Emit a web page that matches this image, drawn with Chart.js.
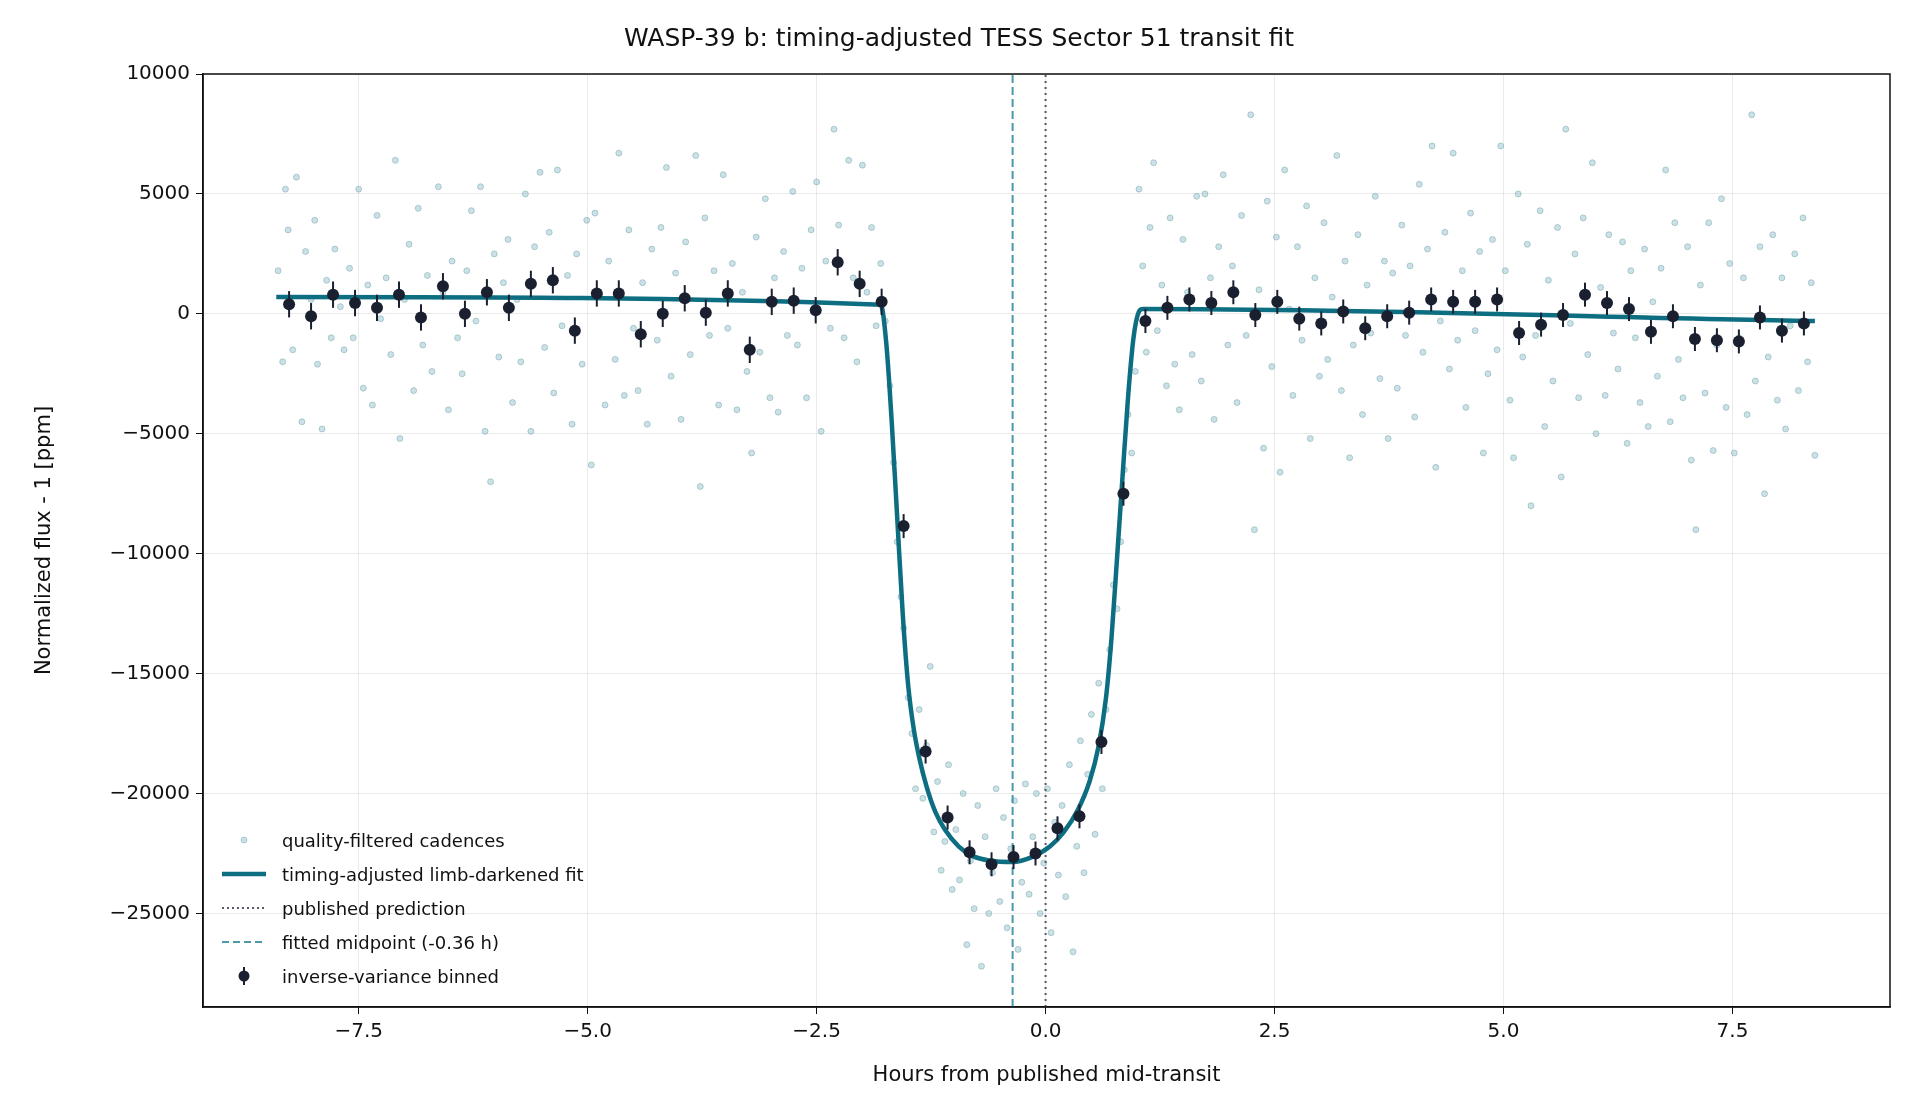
<!DOCTYPE html>
<html><head><meta charset="utf-8">
<script src="https://cdn.jsdelivr.net/npm/chart.js@4"></script>
<style>
html,body{margin:0;padding:0;background:#fff;}
#wrap{position:relative;width:1920px;height:1120px;}
#legend{position:absolute;left:214px;top:823px;font-family:"DejaVu Sans";font-size:18px;color:#111;}
#legend div{height:34px;display:flex;align-items:center;}
#legend svg{width:60px;height:20px;margin-right:8px;}
</style></head><body>
<div id="wrap"><canvas id="c" width="1920" height="1120"></canvas>
<div id="legend">
<div><svg><circle cx="30" cy="10" r="3" fill="rgba(110,170,180,0.35)" stroke="rgba(90,150,160,0.4)"/></svg>quality-filtered cadences</div>
<div><svg><line x1="8" y1="10" x2="52" y2="10" stroke="#0d6e82" stroke-width="4.5"/></svg>timing-adjusted limb-darkened fit</div>
<div><svg><line x1="8" y1="10" x2="52" y2="10" stroke="#555b66" stroke-width="2.2" stroke-dasharray="2,3"/></svg>published prediction</div>
<div><svg><line x1="8" y1="10" x2="52" y2="10" stroke="#4a98a8" stroke-width="2.2" stroke-dasharray="7,4"/></svg>fitted midpoint (-0.36 h)</div>
<div><svg><line x1="30" y1="1" x2="30" y2="19" stroke="#1a2030" stroke-width="2"/><circle cx="30" cy="10" r="5.5" fill="#1a2030"/></svg>inverse-variance binned</div>
</div></div>
<script>
const scatterX=[-8.38,-8.33,-8.30,-8.27,-8.22,-8.18,-8.12,-8.08,-8.02,-7.98,-7.95,-7.90,-7.85,-7.80,-7.76,-7.70,-7.66,-7.60,-7.56,-7.50,-7.45,-7.40,-7.35,-7.30,-7.26,-7.20,-7.15,-7.10,-7.05,-7.00,-6.95,-6.90,-6.85,-6.80,-6.75,-6.70,-6.63,-6.58,-6.52,-6.48,-6.42,-6.37,-6.32,-6.27,-6.22,-6.17,-6.12,-6.06,-6.02,-5.97,-5.92,-5.87,-5.82,-5.77,-5.73,-5.68,-5.62,-5.58,-5.52,-5.47,-5.42,-5.37,-5.33,-5.28,-5.22,-5.17,-5.12,-5.06,-5.01,-4.96,-4.92,-4.87,-4.81,-4.77,-4.70,-4.66,-4.60,-4.55,-4.50,-4.45,-4.40,-4.35,-4.30,-4.24,-4.20,-4.14,-4.09,-4.04,-3.98,-3.93,-3.88,-3.82,-3.77,-3.72,-3.67,-3.62,-3.57,-3.52,-3.47,-3.42,-3.37,-3.31,-3.26,-3.21,-3.16,-3.12,-3.06,-3.01,-2.96,-2.92,-2.86,-2.82,-2.76,-2.71,-2.66,-2.61,-2.56,-2.50,-2.45,-2.40,-2.35,-2.31,-2.26,-2.20,-2.15,-2.10,-2.06,-2.00,-1.95,-1.90,-1.85,-1.80,-1.75,
-1.70,-1.66,-1.62,-1.58,-1.55,-1.50,-1.46,-1.42,-1.38,-1.34,-1.30,-1.26,-1.22,-1.18,-1.14,-1.10,-1.06,-1.02,-0.98,-0.94,-0.90,-0.86,-0.82,-0.78,-0.74,-0.70,-0.66,-0.62,-0.58,-0.54,-0.50,-0.46,-0.42,-0.38,-0.34,-0.30,-0.26,-0.22,-0.18,-0.14,-0.10,-0.06,-0.02,0.02,0.06,0.10,0.14,0.18,0.22,0.26,0.30,0.34,0.38,0.42,0.46,0.50,0.54,0.58,0.62,0.66,0.70,0.74,0.78,0.82,0.86,0.90,0.94,0.98,
1.02,1.06,1.10,1.14,1.18,1.22,1.27,1.32,1.36,1.41,1.46,1.50,1.55,1.60,1.65,1.70,1.74,1.80,1.84,1.89,1.94,1.99,2.04,2.09,2.14,2.19,2.24,2.28,2.33,2.38,2.42,2.47,2.52,2.56,2.61,2.66,2.70,2.75,2.80,2.85,2.89,2.94,2.99,3.04,3.08,3.13,3.18,3.23,3.27,3.32,3.36,3.41,3.46,3.51,3.55,3.60,3.65,3.70,3.74,3.79,3.84,3.89,3.93,3.98,4.03,4.08,4.12,4.17,4.22,4.26,4.31,4.36,4.41,4.45,4.50,4.55,4.59,4.64,4.69,4.74,4.78,4.83,4.88,4.93,4.97,5.02,5.07,5.11,5.16,5.21,5.26,5.30,5.35,5.40,5.45,5.49,5.54,5.59,5.63,5.68,5.73,5.78,5.82,5.87,5.92,5.97,6.01,6.06,6.11,6.15,6.20,6.25,6.30,6.35,6.39,6.44,6.49,6.54,6.58,6.63,6.68,6.72,6.77,6.82,6.87,6.91,6.96,7.01,7.05,7.10,7.15,7.20,7.24,7.29,7.33,7.38,7.43,7.47,7.52,7.57,7.62,7.66,7.71,7.75,7.80,7.85,7.89,7.94,7.99,8.04,8.08,8.13,8.18,8.22,8.27,8.32,8.36,8.40];
const scatterY=[1800,-2000,5200,3500,-1500,5700,-4500,2600,600,3900,-2100,-4800,1400,-1000,2700,300,-1500,1900,-1000,5200,-3100,1200,-3800,4100,-200,1500,-1700,6400,-5200,600,2900,-3200,4400,-1300,1600,-2400,5300,900,-4000,2200,-1000,-2500,1800,4300,-300,5300,-4900,-7000,2500,-1800,1300,3100,-3700,600,-2000,5000,-4900,2800,5900,-1400,3400,-3300,6000,-500,1600,-4600,2500,-2100,3900,-6300,4200,800,-3800,2200,-1900,6700,-3400,3500,-600,-3200,1300,-4600,2700,-1100,3600,6100,-2600,1700,-4400,3000,-1700,6600,-7200,4000,-900,1800,-3800,5800,-600,2100,-4000,900,-2400,-5800,3200,-1600,4800,-3500,1500,-4100,2600,-900,5100,-1300,1900,-3500,3500,5500,-4900,2200,-600,7700,3700,-1000,6400,1500,-2000,6200,900,3600,-500,2100,-300,
-3000,-6200,-9500,-11800,-13100,-16000,-17500,-19800,-16500,-20200,-18000,-14700,-21600,-19500,-23200,-22000,-18800,-24000,-21500,-23600,-20000,-26300,-22800,-24800,-20500,-27200,-21800,-25000,-23300,-19800,-24500,-21000,-25600,-22300,-20300,-26500,-23700,-19600,-24200,-21800,-20000,-25000,-22900,-19800,-25800,-21200,-23400,-20500,-24300,-18800,-26600,-22200,-17800,-23300,-19200,-16700,-21700,-15400,-19800,-16500,-14000,-11300,-12300,-9500,-6500,-4200,-5800,-2400,
5200,2000,-1600,3600,6300,-700,1200,-3000,4000,-2100,-4000,3100,900,-1700,4900,-2800,5000,1500,-4400,2800,5800,-1300,2000,-3700,4100,-900,8300,-9000,1000,-5600,4700,-2200,3200,-6600,6000,200,-3400,2800,-1100,4500,-5200,1500,-2600,3800,-1900,700,6600,-3200,2200,-6000,-1300,3300,-4200,1200,-800,4900,-2700,2200,-5200,1700,-3100,3700,-900,2000,-4300,5400,-1600,2700,7000,-6400,-300,3400,-2300,6700,-1100,1800,-3900,4200,-700,2600,-5800,-2500,3100,-1500,7000,1800,-3600,-6000,5000,-1800,2900,-8000,-900,4300,-4700,1400,-2800,3600,-6800,7700,-400,2500,-3500,4000,-1700,6300,-5000,1100,-3400,3300,-800,-2300,3000,-5400,1800,-1000,-3700,2700,-4700,500,-2600,1900,6000,-4500,3800,-1900,-3500,2800,-6100,-9000,1200,-3300,3800,-5700,-1300,4800,-3900,2100,-5800,-1000,1500,-4200,8300,-2800,2800,-7500,-1800,3300,-3600,1500,-4800,-500,2500,-3200,4000,-2000,1300,-5900];
const fitX=[-8.4,-1.80,-1.74,-1.68,-1.62,-1.56,-1.50,-1.44,-1.38,-1.30,-1.20,-1.10,-0.95,-0.80,-0.60,-0.36,-0.15,0.05,0.20,0.35,0.48,0.58,0.66,0.72,0.78,0.84,0.90,0.96,1.02,1.06,8.4];
const fitY=[700,380,-1200,-4500,-8500,-12500,-15500,-17300,-18500,-19700,-20800,-21500,-22200,-22600,-22800,-22850,-22650,-22200,-21600,-20700,-19500,-18000,-16000,-13500,-10200,-6800,-3500,-1000,100,200,-300];
const binX=[-8.26,-8.02,-7.78,-7.54,-7.30,-7.06,-6.82,-6.58,-6.34,-6.10,-5.86,-5.62,-5.38,-5.14,-4.90,-4.66,-4.42,-4.18,-3.94,-3.71,-3.47,-3.23,-2.99,-2.75,-2.51,-2.27,-2.03,-1.79,-1.55,-1.31,-1.07,-0.83,-0.59,-0.35,-0.11,0.13,0.37,0.61,0.85,1.09,1.33,1.57,1.81,2.05,2.29,2.53,2.77,3.01,3.25,3.49,3.73,3.97,4.21,4.45,4.69,4.93,5.17,5.41,5.65,5.89,6.13,6.37,6.61,6.85,7.09,7.33,7.57,7.80,8.04,8.28];
const binY=[400,-100,800,450,250,800,-150,1150,0,900,250,1250,1400,-700,850,850,-850,0,650,50,850,-1500,500,550,150,2150,1250,500,-8850,-18250,-21000,-22450,-22950,-22650,-22500,-21450,-20950,-17850,-7500,-300,250,600,450,900,-50,500,-200,-400,100,-600,-100,50,600,500,500,600,-800,-450,-50,800,450,200,-750,-100,-1050,-1100,-1150,-150,-700,-400];
const binErr=[550,550,550,550,550,550,550,550,550,550,550,550,550,550,550,550,550,550,550,550,550,550,550,550,550,550,550,550,500,500,500,500,500,500,500,500,500,500,500,500,500,500,500,500,500,500,500,500,500,500,500,500,500,500,500,500,500,500,500,500,500,500,500,500,500,500,500,500,500,500];
const xTicks=[-7.5,-5,-2.5,0,2.5,5,7.5];
const yTicks=[-25000,-20000,-15000,-10000,-5000,0,5000,10000];
const fittedMid=-0.36, published=0;
const YMIN=-28900, YMAX=10000;

const pts=(xs,ys)=>xs.map((x,i)=>({x:x,y:ys[i]}));
const errPlugin={id:'err',afterDatasetsDraw(ch){
  const ctx=ch.ctx,xs=ch.scales.x,ys=ch.scales.y;
  ctx.save();ctx.strokeStyle='#1a2030';ctx.lineWidth=2;
  binX.forEach((x,i)=>{const px=xs.getPixelForValue(x);
    ctx.beginPath();ctx.moveTo(px,ys.getPixelForValue(binY[i]-binErr[i]));ctx.lineTo(px,ys.getPixelForValue(binY[i]+binErr[i]));ctx.stroke();});
  ctx.restore();}};
const fmt=v=>{const s=String(v);return v<0?'\u2212'+s.slice(1):s;};
Chart.defaults.font.family='DejaVu Sans';
Chart.defaults.color='#111';
new Chart(document.getElementById('c'),{
 type:'scatter',
 data:{datasets:[
  {data:pts(binX,binY),pointRadius:6,backgroundColor:'#1a2030',borderWidth:0,order:0},
  {type:'line',data:pts(fitX,fitY),borderColor:'#0d6e82',borderWidth:4.5,pointRadius:0,cubicInterpolationMode:'monotone',order:1},
  {type:'line',data:[{x:fittedMid,y:YMIN},{x:fittedMid,y:YMAX}],borderColor:'#4a98a8',borderWidth:2,borderDash:[8,4],pointRadius:0,order:2},
  {type:'line',data:[{x:published,y:YMIN},{x:published,y:YMAX}],borderColor:'#555b66',borderWidth:2,borderDash:[2,4],pointRadius:0,order:2},
  {data:pts(scatterX,scatterY),pointRadius:3,backgroundColor:'rgba(110,170,180,0.35)',borderColor:'rgba(90,150,160,0.4)',borderWidth:1,order:3}
 ]},
 options:{responsive:false,animation:false,
  layout:{padding:{left:28,right:30,top:0,bottom:28}},
  plugins:{legend:{display:false},tooltip:{enabled:false},
   title:{display:true,text:'WASP-39 b: timing-adjusted TESS Sector 51 transit fit',font:{size:25,weight:'normal'},color:'#111',padding:{top:24,bottom:20}}},
  scales:{
   x:{type:'linear',min:-9.2,max:9.22,
    afterBuildTicks:s=>{s.ticks=xTicks.map(v=>({value:v}));},
    afterFit:s=>{s.height=85;},
    ticks:{font:{size:20},color:'#111',padding:6,callback:v=>fmt(v.toFixed(1))},
    grid:{color:'rgba(0,0,0,0.08)',tickColor:'#111',tickLength:7},
    border:{color:'#111',width:1.5},
    title:{display:true,text:'Hours from published mid-transit',font:{size:21},color:'#111',padding:{top:6}}},
   y:{type:'linear',min:YMIN,max:YMAX,
    afterBuildTicks:s=>{s.ticks=yTicks.map(v=>({value:v}));},
    afterFit:s=>{s.width=175;},
    ticks:{font:{size:20},color:'#111',padding:6,callback:v=>fmt(v)},
    grid:{color:'rgba(0,0,0,0.08)',tickColor:'#111',tickLength:7},
    border:{color:'#111',width:1.5},
    title:{display:true,text:'Normalized flux - 1 [ppm]',font:{size:21},color:'#111',padding:{bottom:8}}}
  }},
 plugins:[errPlugin,{id:'frame',afterDraw(ch){const a=ch.chartArea,c=ch.ctx;c.save();c.strokeStyle='#111';c.lineWidth=1.5;c.strokeRect(a.left,a.top,a.right-a.left,a.bottom-a.top);c.restore();}}]
});
</script></body></html>
